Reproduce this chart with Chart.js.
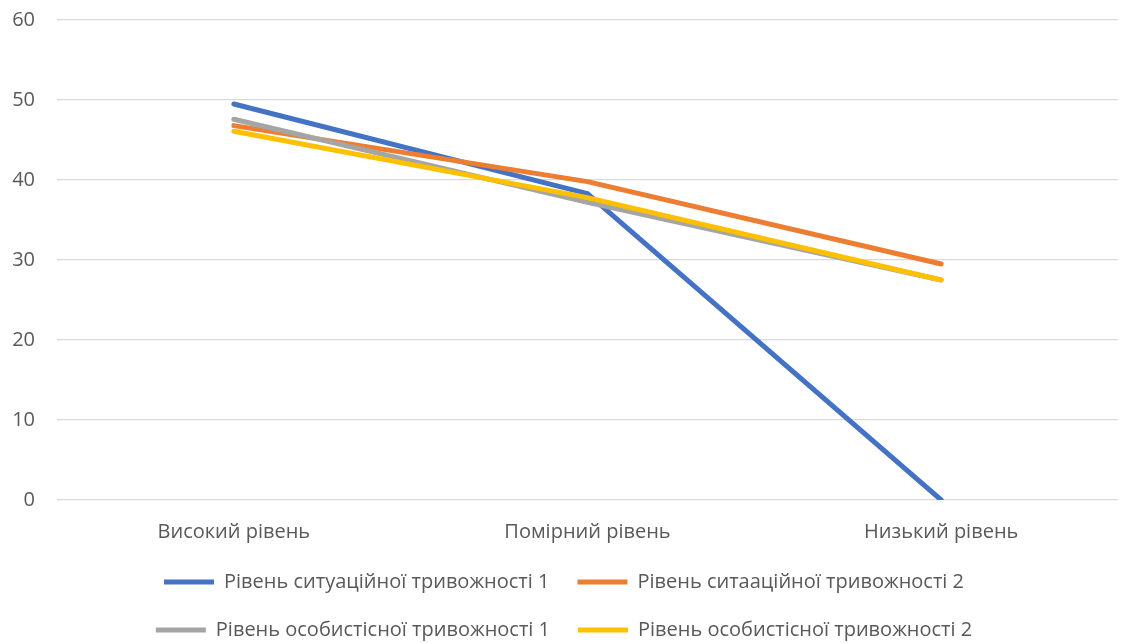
<!DOCTYPE html>
<html>
<head>
<meta charset="utf-8">
<script src="https://cdn.jsdelivr.net/npm/chart.js@4.4.1/dist/chart.umd.min.js"></script>
<style>
    html, body { margin: 0; padding: 0; background: #ffffff; }
    #wrap { width: 1124px; height: 643px; }
</style>
</head>
<body>
<div id="wrap"><canvas id="anxietyChart"></canvas></div>
<script>
const levelLabels = ['Високий рівень', 'Помірний рівень', 'Низький рівень'];
const yTicks = [0, 10, 20, 30, 40, 50, 60];

const situational1 = [49.5, 38.3, 0];
const situational2 = [46.8, 39.8, 29.5];
const personal1 = [47.6, 37.2, 27.5];
const personal2 = [46.1, 37.8, 27.5];

const ctx = document.getElementById('anxietyChart').getContext('2d');
const fontFamily = '"Open Sans", sans-serif';

// later series drawn on top, like in the original
function lineSet(label, data, color, order) {
    return {
        label: label,
        data: data,
        order: order,
        borderColor: color,
        backgroundColor: color,
        borderWidth: 5,
        borderCapStyle: 'round',
        borderJoinStyle: 'round',
        pointRadius: 0,
        pointHoverRadius: 0,
        pointStyle: 'line',
        tension: 0,
        fill: false
    };
}

new Chart(ctx, {
    type: 'line',
    data: {
        labels: levelLabels,
        datasets: [
            lineSet('Рівень ситуаційної тривожності 1', situational1, '#4472c4', 4),
            lineSet('Рівень ситаацiйної тривожності 2', situational2, '#ed7d31', 3),
            lineSet('Рівень особистісної тривожності 1', personal1, '#a5a5a5', 2),
            lineSet('Рівень особистісної тривожності 2', personal2, '#ffc000', 1)
        ]
    },
    options: {
        responsive: true,
        maintainAspectRatio: false,
        animation: false,
        layout: {
            padding: { top: 20, right: 6, left: 10, bottom: -7 }
        },
        plugins: {
            legend: {
                position: 'bottom',
                align: 'center',
                labels: {
                    color: '#595959',
                    usePointStyle: true,
                    pointStyleWidth: 50,
                    boxHeight: 20,
                    padding: 28,
                    sort: (a, b) => a.datasetIndex - b.datasetIndex,
                    font: { family: fontFamily, size: 20 }
                }
            },
            tooltip: { enabled: false }
        },
        scales: {
            x: {
                offset: true,
                grid: { display: false, drawTicks: false },
                border: { display: false },
                afterFit: (axis) => { axis.height = 44; },
                ticks: {
                    color: '#595959',
                    padding: 20,
                    maxRotation: 0,
                    font: { family: fontFamily, size: 20 }
                }
            },
            y: {
                min: yTicks[0],
                max: yTicks[yTicks.length - 1],
                grid: { color: '#d9d9d9', lineWidth: 1.3, drawTicks: false },
                border: { display: false },
                afterBuildTicks: (axis) => {
                    axis.ticks = yTicks.map(v => ({ value: v }));
                },
                afterFit: (axis) => {
                    axis.width = 47;
                    axis.paddingTop = 0;
                    axis.paddingBottom = 0;
                },
                ticks: {
                    color: '#595959',
                    padding: 22,
                    font: { family: fontFamily, size: 20 }
                }
            }
        }
    }
});
</script>
</body>
</html>
